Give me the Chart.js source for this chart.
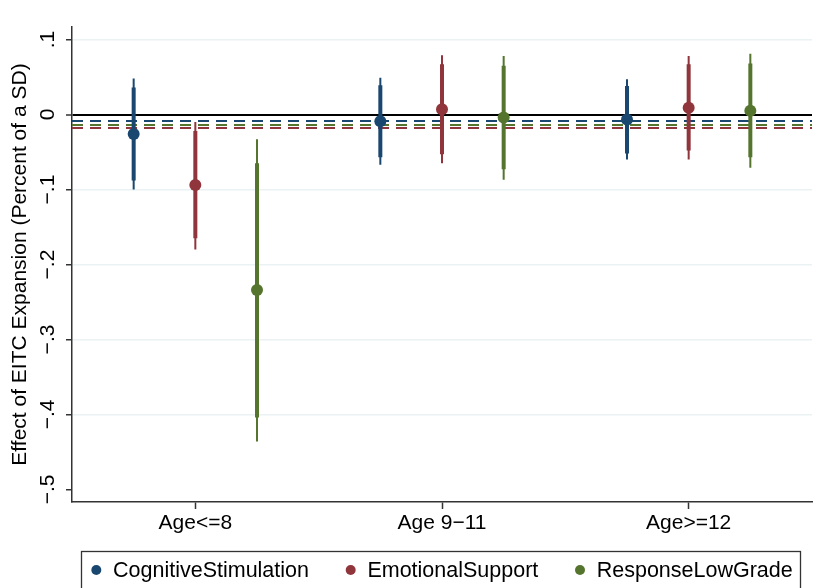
<!DOCTYPE html>
<html>
<head>
<meta charset="utf-8">
<script src="https://cdn.jsdelivr.net/npm/chart.js@4.4.1/dist/chart.umd.min.js"></script>
<style>
    html, body { margin: 0; padding: 0; background: #fff; }
    #wrap { position: relative; width: 820px; height: 588px; }
</style>
</head>
<body>
<div id="wrap"><canvas id="chart"></canvas></div>
<script>
// EITC expansion effects by child age - coefficient plot with two CI widths

const groups = ['Age<=8', 'Age 9\u221211', 'Age>=12'];
const groupPos = [1, 2, 3];
const seriesNames = ['CognitiveStimulation', 'EmotionalSupport', 'ResponseLowGrade'];
const seriesColors = ['#1a476f', '#90353b', '#55752f'];
const seriesOffset = [-0.25, 0, 0.25];

// point estimates, inner (thick) and outer (thin) intervals, per age group
const cogEst   = [-0.026, -0.009, -0.0065];
const cogThick = [[-0.088, 0.036], [-0.057, 0.039], [-0.052, 0.038]];
const cogThin  = [[-0.100, 0.048], [-0.067, 0.049], [-0.060, 0.047]];

const emoEst   = [-0.094, 0.007, 0.009];
const emoThick = [[-0.165, -0.022], [-0.053, 0.067], [-0.048, 0.067]];
const emoThin  = [[-0.180, -0.010], [-0.065, 0.079], [-0.060, 0.078]];

const resEst   = [-0.234, -0.004, 0.005];
const resThick = [[-0.404, -0.065], [-0.073, 0.065], [-0.057, 0.068]];
const resThin  = [[-0.436, -0.033], [-0.087, 0.078], [-0.071, 0.081]];

// dashed reference lines (one per outcome)
const meanLines = [-0.0087, -0.018, -0.014];

const yTickValues = [-0.5, -0.4, -0.3, -0.2, -0.1, 0, 0.1];
const yTickLabels = ['\u2212.5', '\u2212.4', '\u2212.3', '\u2212.2', '\u2212.1', '0', '.1'];

const X_MIN = 0.5, X_MAX = 3.5;
const Y_MIN = -0.5167, Y_MAX = 0.1167;
const FONT = "'Liberation Sans', Arial, Helvetica, sans-serif";

function segments(ci, off) {
    const pts = [];
    ci.forEach((pair, i) => {
        const x = groupPos[i] + off;
        pts.push({ x: x, y: pair[0] }, { x: x, y: pair[1] }, { x: x, y: null });
    });
    return pts;
}

const ests = [cogEst, emoEst, resEst];
const thicks = [cogThick, emoThick, resThick];
const thins = [cogThin, emoThin, resThin];

const datasets = [];
seriesNames.forEach((name, s) => {
    datasets.push({
        label: name,
        data: ests[s].map((v, i) => ({ x: groupPos[i] + seriesOffset[s], y: v })),
        backgroundColor: seriesColors[s],
        borderColor: seriesColors[s],
        borderWidth: 0,
        pointBorderWidth: 0,
        pointRadius: 6,
        pointHoverRadius: 6,
        order: 0
    });
    datasets.push({
        label: name + ' thick',
        data: segments(thicks[s], seriesOffset[s]),
        showLine: true,
        spanGaps: false,
        borderColor: seriesColors[s],
        borderWidth: 4,
        pointRadius: 0,
        order: 1
    });
    datasets.push({
        label: name + ' thin',
        data: segments(thins[s], seriesOffset[s]),
        showLine: true,
        spanGaps: false,
        borderColor: seriesColors[s],
        borderWidth: 2,
        pointRadius: 0,
        order: 2
    });
    datasets.push({
        label: name + ' mean',
        data: [{ x: X_MIN, y: meanLines[s] }, { x: X_MAX, y: meanLines[s] }],
        showLine: true,
        borderColor: seriesColors[s],
        borderWidth: 2,
        borderDash: [11, 7],
        pointRadius: 0,
        order: 3
    });
});

// Stata style legend: one row in a framed box under the plot region
const stataLegend = {
    id: 'stataLegend',
    afterDraw(chart) {
        const ctx = chart.ctx;
        const area = chart.chartArea;
        const dotR = 5, dotToText = 16.7, gap = 41.7;
        const yMid = area.bottom + 68;

        ctx.save();
        ctx.strokeStyle = '#333';
        ctx.lineWidth = 1.3;
        ctx.strokeRect(area.left + 9.5, area.bottom + 49.5, area.right - area.left - 21, 60);

        ctx.font = '21.5px ' + FONT;
        ctx.textBaseline = 'middle';
        ctx.textAlign = 'left';
        const widths = seriesNames.map(n => ctx.measureText(n).width);
        let total = 0;
        widths.forEach(w => { total += dotR + dotToText + w; });
        total += (seriesNames.length - 1) * (gap - dotR);
        let x = (area.left + area.right) / 2 - total / 2;
        seriesNames.forEach((name, i) => {
            ctx.fillStyle = seriesColors[i];
            ctx.beginPath();
            ctx.arc(x + dotR, yMid, dotR, 0, Math.PI * 2);
            ctx.fill();
            ctx.fillStyle = '#000';
            ctx.fillText(name, x + dotR + dotToText, yMid + 1);
            x += dotR + dotToText + widths[i] + gap - dotR;
        });
        ctx.restore();
    }
};

Chart.defaults.font.family = FONT;
Chart.defaults.color = '#000';

new Chart(document.getElementById('chart'), {
    type: 'scatter',
    data: { datasets: datasets },
    plugins: [stataLegend],
    options: {
        responsive: true,
        maintainAspectRatio: false,
        animation: false,
        events: [],
        layout: { padding: { top: 27, left: 0, right: 8, bottom: 46 } },
        plugins: {
            tooltip: { enabled: false },
            legend: { display: false }
        },
        scales: {
            x: {
                type: 'linear',
                min: X_MIN,
                max: X_MAX,
                afterBuildTicks: (s) => { s.ticks = groupPos.map(v => ({ value: v })); },
                afterFit: (s) => { s.height = 40; },
                ticks: {
                    callback: (v, i) => groups[i],
                    autoSkip: false,
                    maxRotation: 0,
                    padding: 1.5,
                    color: '#000',
                    font: { size: 21 }
                },
                grid: {
                    drawOnChartArea: false,
                    drawTicks: true,
                    tickLength: 7,
                    tickColor: '#333',
                    tickWidth: 1.5
                },
                border: { color: '#333', width: 1.5 }
            },
            y: {
                type: 'linear',
                min: Y_MIN,
                max: Y_MAX,
                afterBuildTicks: (s) => { s.ticks = yTickValues.map(v => ({ value: v })); },
                afterFit: (s) => { s.width = 72; },
                ticks: {
                    callback: (v, i) => yTickLabels[i],
                    minRotation: 90,
                    maxRotation: 90,
                    crossAlign: 'center',
                    padding: 3,
                    color: '#000',
                    font: { size: 21 }
                },
                grid: {
                    color: (c) => c.tick && c.tick.value === 0 ? '#000'
                        : (c.tick && c.tick.value === -0.5 ? 'rgba(0,0,0,0)' : '#eaf2f3'),
                    lineWidth: (c) => c.tick && c.tick.value === 0 ? 2 : 1.5,
                    tickLength: 6,
                    tickColor: '#333',
                    tickWidth: 1.5
                },
                border: { color: '#333', width: 1.5 },
                title: {
                    display: true,
                    text: 'Effect of EITC Expansion (Percent of a SD)',
                    color: '#000',
                    font: { size: 21 },
                    padding: { top: 8, bottom: 0 }
                }
            }
        }
    }
});
</script>
</body>
</html>
